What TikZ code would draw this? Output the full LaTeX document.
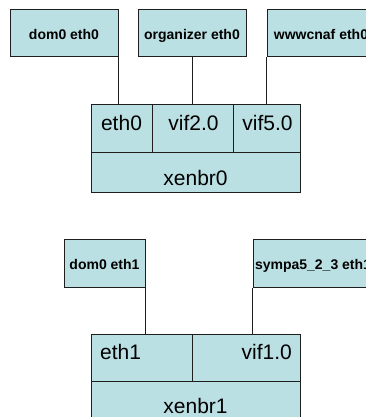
\documentclass[tikz,border=0pt]{standalone}
\usepackage{fontspec}
\setmainfont{Liberation Sans}
\definecolor{boxfill}{RGB}{187,224,227}
\definecolor{edge}{RGB}{30,30,30}
\begin{document}
\begin{tikzpicture}[x=1pt,y=-1pt,
  cell/.style={draw=edge, fill=boxfill, line width=1pt, rectangle, inner sep=0pt, minimum width=#1},
  host/.style={cell=#1, minimum height=47, font=\bfseries\fontsize{14}{16}\selectfont, text height=13pt, text depth=0pt},
  big/.style={inner sep=0pt, font=\fontsize{21}{24}\selectfont, anchor=base},
  wire/.style={draw=edge, line width=1pt}]
\useasboundingbox (0,0) rectangle (366,417);
\clip (0,0) rectangle (366,417);
% top group
\node[host=108] (d0e0) at (64,33.5) {dom0 eth0};
\node[host=108] (org) at (192,33.5) {organizer eth0};
\node[host=108] (www) at (321,33.5) {wwwcnaf eth0};
\node[cell=61, minimum height=47] (eth0) at (121.5,128.5) {};
\node[cell=81, minimum height=47] (vif20) at (192.5,128.5) {};
\node[cell=67, minimum height=47] (vif50) at (266.5,128.5) {};
\node[cell=209, minimum height=40] (br0) at (195.5,172) {};
\node[big] (teth0) at (121.5,130) {eth0};
\node[big] (tvif20) at (193.5,130) {vif2.0};
\node[big] (tvif50) at (267.5,130) {vif5.0};
\node[big] (tbr0) at (195.5,185) {xenbr0};
\draw[wire] (d0e0.south east) -- (d0e0.south east |- eth0.north);
\draw[wire] (org.south) -- (org.south |- vif20.north);
\draw[wire] (www.south west) -- (www.south west |- vif50.north);
% bottom group
\node[host=81, minimum height=48] (d0e1) at (104.5,263) {dom0 eth1};
\node[host=120, minimum height=48] (sym) at (313,263) {sympa5\_2\_3 eth1};
\node[cell=101, minimum height=47] (eth1) at (141.5,357.5) {};
\node[cell=108, minimum height=47] (vif10) at (246,357.5) {};
\node[cell=209, minimum height=47] (br1) at (195.5,404.5) {};
\node[big, anchor=base west] (teth1) at (100,359.3) {eth1};
\node[big, anchor=base east] (tvif10) at (292,359.3) {vif1.0};
\node[big] (tbr1) at (195.5,413.3) {xenbr1};
\draw[wire] (d0e1.south east) -- (d0e1.south east |- eth1.north);
\draw[wire] (sym.south west) -- (sym.south west |- vif10.north);
\end{tikzpicture}
\end{document}
